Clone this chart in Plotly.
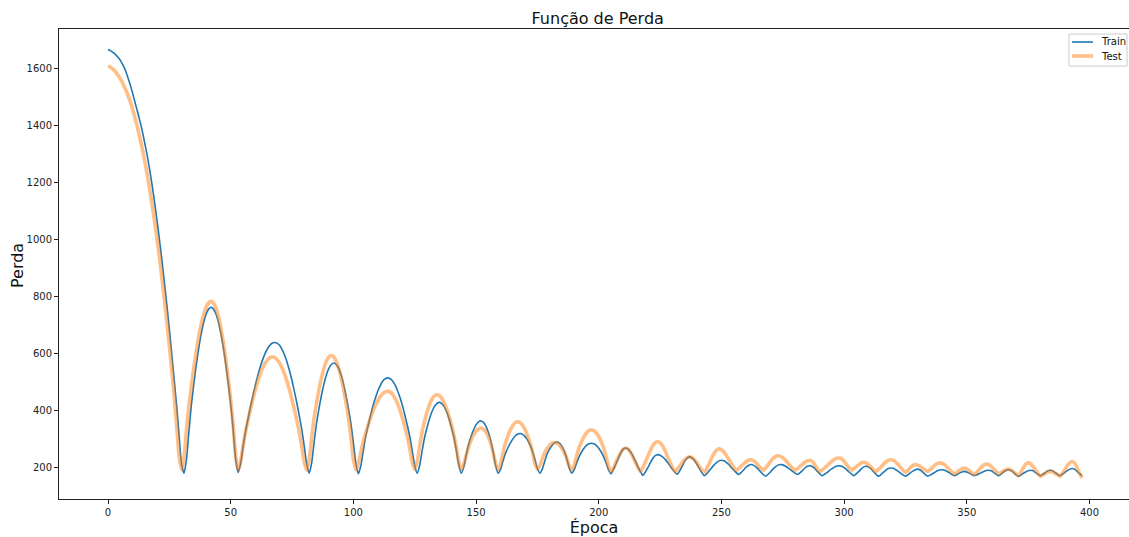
import plotly.graph_objects as go

# Loss per epoch for the training and validation sets
train_loss = [
    1667, 1663, 1657, 1650, 1641, 1630, 1614, 1596, 1572, 1545,
    1515, 1482, 1450, 1416, 1380, 1338, 1295, 1245, 1190, 1130,
    1066, 998, 926, 850, 770, 686, 598, 508, 415, 310,
    212, 182, 232, 330, 423, 496, 563, 621, 671, 711,
    740, 757, 763, 757, 740, 711, 671, 622, 563, 497,
    424, 335, 232, 184, 213, 272, 325, 370, 412, 452,
    489, 523, 553, 579, 601, 618, 630, 638, 640, 637,
    629, 614, 595, 570, 540, 506, 467, 426, 381, 334,
    275, 213, 182, 218, 290, 357, 409, 455, 494, 526,
    549, 563, 568, 563, 549, 526, 494, 454, 408, 356,
    290, 217, 180, 206, 258, 309, 348, 385, 418, 446,
    471, 490, 505, 513, 516, 513, 505, 491, 471, 447,
    418, 385, 349, 310, 260, 208, 182, 208, 259, 306,
    341, 372, 397, 415, 426, 430, 426, 415, 397, 372,
    341, 306, 259, 208, 182, 203, 245, 284, 311, 334,
    351, 362, 365, 360, 347, 325, 296, 254, 207, 182,
    196, 225, 252, 271, 288, 302, 313, 319, 321, 318,
    310, 298, 280, 259, 230, 198, 182, 196, 224, 250,
    267, 280, 288, 291, 287, 276, 259, 232, 199, 182,
    194, 218, 240, 256, 269, 279, 285, 287, 285, 279,
    269, 256, 239, 218, 193, 180, 195, 214, 234, 253,
    266, 270, 266, 256, 241, 223, 204, 187, 174, 186,
    201, 218, 233, 243, 247, 245, 239, 231, 220, 208,
    196, 186, 178, 190, 206, 223, 235, 239, 236, 226,
    213, 198, 184, 173, 180, 190, 200, 211, 219, 225,
    227, 225, 220, 212, 202, 193, 184, 177, 184, 193,
    203, 209, 212, 210, 204, 196, 186, 178, 171, 178,
    186, 196, 204, 210, 212, 211, 207, 201, 195, 188,
    182, 177, 183, 191, 200, 206, 208, 205, 199, 189,
    180, 173, 178, 184, 191, 197, 203, 207, 208, 206,
    201, 194, 186, 179, 173, 180, 188, 197, 204, 206,
    203, 197, 187, 178, 171, 177, 185, 192, 198, 200,
    199, 194, 189, 182, 176, 171, 176, 183, 189, 194,
    196, 193, 186, 178, 171, 175, 180, 185, 190, 193,
    194, 192, 188, 183, 177, 173, 177, 182, 186, 188,
    186, 182, 177, 173, 176, 180, 184, 188, 191, 192,
    190, 184, 178, 173, 179, 186, 192, 194, 191, 185,
    177, 171, 175, 181, 186, 190, 192, 190, 184, 178,
    173, 178, 184, 190, 192, 190, 184, 178, 173, 178,
    185, 191, 196, 198, 195, 188, 180, 173,
]

test_loss = [
    1610, 1605, 1598, 1590, 1578, 1565, 1549, 1530, 1510, 1486,
    1459, 1428, 1394, 1357, 1318, 1275, 1228, 1177, 1122, 1064,
    1002, 935, 864, 789, 710, 627, 540, 450, 345, 240,
    194, 240, 335, 420, 489, 553, 611, 662, 705, 739,
    764, 779, 784, 778, 760, 731, 690, 640, 580, 513,
    439, 350, 245, 194, 220, 275, 325, 365, 404, 440,
    473, 503, 529, 550, 567, 579, 587, 589, 587, 579,
    567, 550, 528, 502, 473, 439, 403, 364, 323, 273,
    220, 192, 230, 305, 375, 428, 476, 517, 550, 574,
    589, 594, 589, 574, 550, 518, 477, 429, 376, 308,
    230, 194, 214, 254, 292, 322, 350, 376, 400, 420,
    437, 451, 461, 467, 469, 466, 458, 444, 426, 402,
    375, 344, 309, 267, 219, 196, 222, 277, 327, 364,
    396, 422, 441, 453, 457, 454, 444, 429, 407, 381,
    349, 314, 270, 220, 196, 213, 246, 276, 298, 316,
    329, 337, 340, 336, 326, 309, 286, 253, 215, 196,
    215, 255, 288, 313, 334, 349, 359, 362, 359, 349,
    334, 313, 288, 255, 215, 196, 208, 233, 254, 269,
    280, 287, 289, 287, 280, 268, 253, 232, 206, 194,
    210, 243, 272, 293, 310, 323, 331, 334, 331, 323,
    310, 292, 270, 240, 205, 190, 198, 220, 238, 255,
    266, 270, 266, 254, 238, 219, 201, 188, 202, 221,
    241, 261, 278, 289, 293, 289, 278, 261, 241, 221,
    202, 188, 196, 207, 219, 229, 236, 239, 236, 229,
    218, 205, 194, 185, 198, 216, 235, 251, 263, 267,
    264, 256, 244, 230, 215, 202, 192, 198, 206, 214,
    222, 227, 229, 226, 219, 209, 199, 192, 200, 211,
    223, 233, 240, 243, 241, 236, 228, 218, 208, 199,
    192, 198, 205, 213, 220, 225, 227, 223, 212, 198,
    188, 193, 200, 208, 216, 224, 230, 234, 235, 232,
    223, 212, 201, 192, 198, 205, 212, 218, 220, 218,
    211, 203, 194, 188, 195, 203, 213, 221, 227, 229,
    227, 221, 212, 202, 192, 185, 192, 201, 209, 212,
    210, 206, 199, 193, 188, 194, 202, 210, 216, 218,
    216, 211, 203, 194, 186, 180, 185, 192, 198, 200,
    197, 191, 183, 177, 184, 194, 204, 211, 214, 212,
    205, 196, 187, 180, 184, 190, 194, 196, 193, 187,
    179, 173, 185, 200, 213, 218, 215, 205, 193, 180,
    171, 176, 181, 186, 188, 186, 181, 176, 171, 182,
    195, 209, 219, 223, 217, 200, 180, 165,
]

epochs = list(range(len(train_loss)))

x_ticks = [0, 50, 100, 150, 200, 250, 300, 350, 400]
y_ticks = [200, 400, 600, 800, 1000, 1200, 1400, 1600]

series_names = ["Train", "Test"]
series_colors = ["#1f77b4", "rgba(255,127,14,0.5)"]
series_widths = [1.6, 3.6]

FONT = "DejaVu Sans"
W, H = 1129, 537
M_L, M_R, M_T, M_B = 59, 0, 29, 38


def px_x(px):
    """Horizontal pixel -> paper coordinate."""
    return (px - M_L) / (W - M_L - M_R)


def px_y(py):
    """Vertical pixel (from top) -> paper coordinate."""
    return (H - M_B - py) / (H - M_T - M_B)


fig = go.Figure()
for name, ys, color, width in zip(series_names, [train_loss, test_loss],
                                  series_colors, series_widths):
    fig.add_trace(go.Scatter(
        x=epochs, y=ys, mode="lines", name=name,
        line=dict(color=color, width=width, shape="spline", smoothing=0.6),
        showlegend=False,
    ))

axis_common = dict(
    showgrid=False, zeroline=False,
    ticks="outside", ticklen=4, tickwidth=1, tickcolor="#222",
    showline=True, linecolor="#222", linewidth=1,
    tickfont=dict(family=FONT, size=10, color="#222"),
)

# Legend box in the upper-right corner
legend_shapes = [dict(
    type="rect", xref="paper", yref="paper",
    x0=px_x(1069), x1=px_x(1127), y0=px_y(66), y1=px_y(34),
    line=dict(color="#cccccc", width=1), fillcolor="rgba(255,255,255,0.8)",
    layer="above",
)]
notes = []
for i, (name, color, width) in enumerate(zip(series_names, series_colors, series_widths)):
    row_y = 42 + 14 * i
    legend_shapes.append(dict(
        type="line", xref="paper", yref="paper",
        x0=px_x(1072), x1=px_x(1093), y0=px_y(row_y), y1=px_y(row_y),
        line=dict(color=color, width=width), layer="above",
    ))
    notes.append(dict(
        text=name, xref="paper", yref="paper",
        x=px_x(1099), y=px_y(row_y), xanchor="left", yanchor="middle",
        showarrow=False, font=dict(family=FONT, size=10, color="#111"),
    ))

# Y axis label
notes.append(dict(
    text="Perda", xref="paper", yref="paper",
    x=px_x(17), y=px_y(266), xanchor="center", yanchor="middle",
    textangle=-90, showarrow=False,
    font=dict(family=FONT, size=16, color="#111"),
))

fig.update_layout(
    width=W, height=H,
    margin=dict(l=M_L, r=M_R, t=M_T, b=M_B),
    paper_bgcolor="white", plot_bgcolor="white",
    font=dict(family=FONT, color="#222"),
    title=dict(
        text="Função de Perda",
        x=597.7 / W, xref="container", xanchor="center",
        y=1 - 18 / H, yref="container", yanchor="middle",
        font=dict(family=FONT, size=16, color="#111"),
    ),
    xaxis=dict(
        range=[-19.97, 416.1], tickvals=x_ticks, mirror=True,
        title=dict(text="Época", font=dict(family=FONT, size=16, color="#111"), standoff=6),
        **axis_common,
    ),
    yaxis=dict(
        range=[91.3, 1739], tickvals=y_ticks, mirror=False,
        **axis_common,
    ),
    shapes=legend_shapes,
    annotations=notes,
    showlegend=False,
)

fig.write_html("out.html")
